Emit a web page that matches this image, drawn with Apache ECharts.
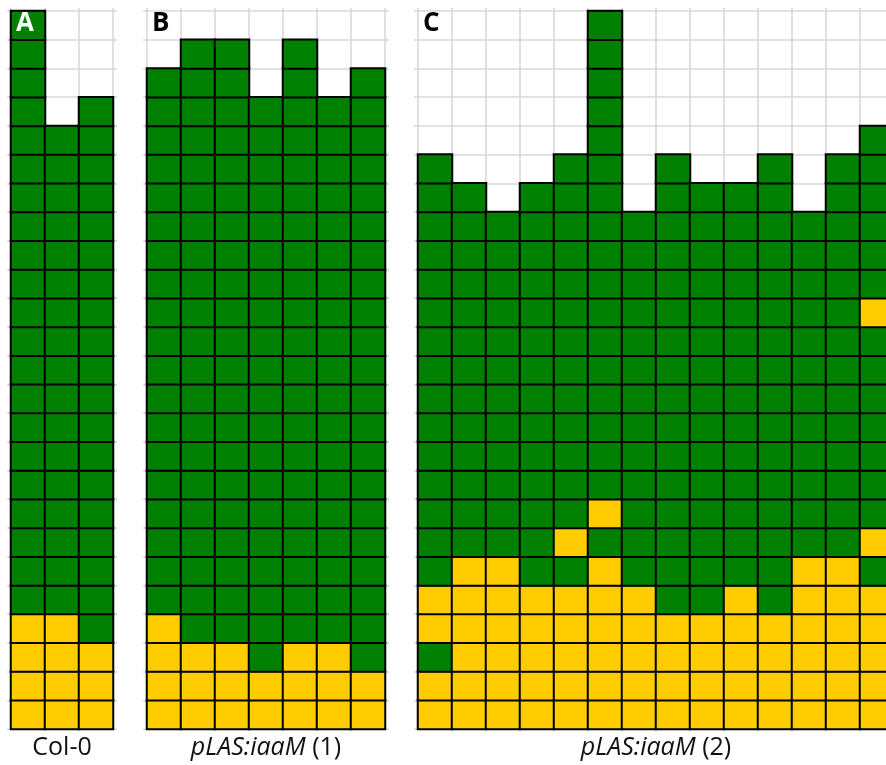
<!DOCTYPE html>
<html>
<head>
<meta charset="utf-8">
<script src="https://cdn.jsdelivr.net/npm/echarts@6/dist/echarts.min.js"></script>
<style>
html,body{margin:0;padding:0;background:#fff;overflow:hidden;width:886px;height:765px;}
#chart{width:900px;height:765px;}
</style>
</head>
<body>
<div id="chart"></div>
<script>
// ---- data ----
// node positions along the stem (row categories, base = 1)
const nodePositions = ['1','2','3','4','5','6','7','8','9','10','11','12','13','14','15','16','17','18','19','20','21','22','23','24','25'];
const panelLetters = ['A', 'B', 'C'];
const genotypeNames = ['Col-0', '{i|pLAS:iaaM} (1)', '{i|pLAS:iaaM} (2)'];

// number of nodes per plant
const nodeCountA = [25, 21, 22];
const nodeCountB = [23, 24, 24, 22, 24, 22, 23];
const nodeCountC = [20, 19, 18, 19, 20, 25, 18, 20, 19, 19, 20, 18, 20, 21];

// nodes (counted from base) that are yellow; all other nodes are green
const yellowNodesA = [[1,2,3,4], [1,2,3,4], [1,2,3]];
const yellowNodesB = [[1,2,3,4], [1,2,3], [1,2,3], [1,2], [1,2,3], [1,2,3], [1,2]];
const yellowNodesC = [
  [1,2,4,5], [1,2,3,4,5,6], [1,2,3,4,5,6], [1,2,3,4,5], [1,2,3,4,5,7],
  [1,2,3,4,5,6,8], [1,2,3,4,5], [1,2,3,4], [1,2,3,4], [1,2,3,4,5],
  [1,2,3,4], [1,2,3,4,5,6], [1,2,3,4,5,6], [1,2,3,4,5,7,15]
];

const panels = [
  {counts: nodeCountA, yellow: yellowNodesA},
  {counts: nodeCountB, yellow: yellowNodesB},
  {counts: nodeCountC, yellow: yellowNodesC}
];

// ---- layout ----
const cellW = 34;
const gridTop = 11;
const gridH = 718;
const gridLefts = [11, 147, 418];
const FONT = '"Open Sans", "Liberation Sans", sans-serif';
const GRIDLINE = '#d9d9d9';

const grids = [], xAxes = [], yAxes = [], series = [], titles = [];

panels.forEach((p, pi) => {
  const n = p.counts.length;
  const plants = p.counts.map((_, j) => String(j + 1));
  grids.push({left: gridLefts[pi], top: gridTop, width: n * cellW, height: gridH, containLabel: false});
  // bottom x axis (with genotype name)
  xAxes.push({
    type: 'category', gridIndex: pi, data: plants, position: 'bottom',
    axisLine: {show: false}, axisTick: {show: false}, axisLabel: {show: false},
    splitLine: {show: true, interval: 0, lineStyle: {color: GRIDLINE, width: 1.6}},
    name: genotypeNames[pi], nameLocation: 'middle', nameGap: 6,
    nameTextStyle: {
      fontFamily: FONT, fontSize: 25, color: '#111', verticalAlign: 'top',
      rich: {i: {fontFamily: FONT, fontSize: 25, fontStyle: 'italic', color: '#111'}}
    }
  });
  // top x axis (tick stubs only)
  xAxes.push({
    type: 'category', gridIndex: pi, data: plants, position: 'top',
    axisLine: {show: false}, axisLabel: {show: false}, splitLine: {show: false},
    axisTick: {show: true, interval: 0, length: 3, lineStyle: {color: GRIDLINE, width: 1.6}}
  });
  yAxes.push({
    type: 'category', gridIndex: pi, data: nodePositions, position: 'left',
    axisLine: {show: false}, axisLabel: {show: false},
    axisTick: {show: true, interval: 0, length: 4, lineStyle: {color: GRIDLINE, width: 1.6}},
    splitLine: {show: true, interval: 0, lineStyle: {color: GRIDLINE, width: 1.6}}
  });
  yAxes.push({
    type: 'category', gridIndex: pi, data: nodePositions, position: 'right',
    axisLine: {show: false}, axisLabel: {show: false}, splitLine: {show: false},
    axisTick: {show: true, interval: 0, length: 4, lineStyle: {color: GRIDLINE, width: 1.6}}
  });

  const data = [];
  p.counts.forEach((cnt, j) => {
    for (let k = 1; k <= cnt; k++) {
      data.push([j, k - 1, p.yellow[j].includes(k) ? 0 : 1]);
    }
  });
  series.push({
    type: 'heatmap', xAxisIndex: pi * 2, yAxisIndex: pi * 2, data: data,
    itemStyle: {borderColor: '#000', borderWidth: 2},
    emphasis: {disabled: true}, progressive: 0, animation: false
  });

  titles.push({
    text: panelLetters[pi], left: gridLefts[pi] + 5, top: 11, padding: 0,
    textStyle: {fontFamily: FONT, fontWeight: 'bold', fontSize: 26, color: pi === 0 ? '#fff' : '#000'}
  });
});

const chart = echarts.init(document.getElementById('chart'), null, {renderer: 'canvas'});
chart.setOption({
  animation: false,
  backgroundColor: '#fff',
  title: titles,
  grid: grids,
  xAxis: xAxes,
  yAxis: yAxes,
  visualMap: {
    type: 'piecewise', show: false, dimension: 2, seriesIndex: [0, 1, 2],
    pieces: [{value: 0, color: '#FFCC00'}, {value: 1, color: '#008000'}]
  },
  series: series
});
</script>
</body>
</html>
